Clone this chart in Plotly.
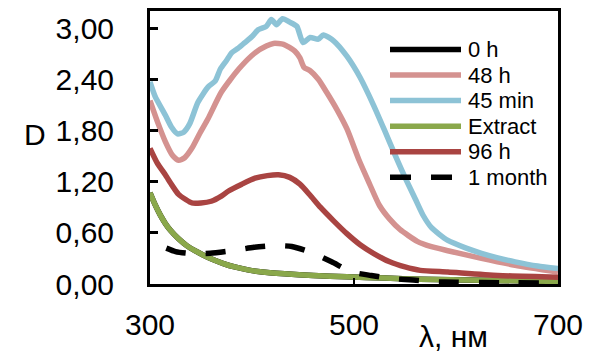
import plotly.graph_objects as go

# ---------------- data ----------------
series_names = ["0 h", "48 h", "45 min", "Extract", "96 h", "1 month"]

wl_extract = [300, 305, 310, 315, 320, 328, 336, 344, 352, 361, 372, 383, 396, 410, 432, 460, 493, 530, 565, 625, 700]
d_extract = [1.07, 0.93, 0.81, 0.71, 0.63, 0.53, 0.45, 0.39, 0.34, 0.29, 0.24, 0.20, 0.165, 0.14, 0.12, 0.10, 0.085, 0.07, 0.055, 0.045, 0.03]

wl_0h = [300, 305, 310, 315, 320, 328, 336, 344, 352, 361, 372, 383, 396, 410, 432, 460, 493, 530, 565, 625, 700]
d_0h = [1.07, 0.93, 0.81, 0.71, 0.63, 0.53, 0.45, 0.39, 0.34, 0.29, 0.24, 0.20, 0.165, 0.14, 0.12, 0.10, 0.085, 0.07, 0.055, 0.045, 0.03]

wl_48h = [300, 308, 315, 322, 328, 334, 341, 349, 357, 370, 387, 403, 414, 421, 431, 442, 447, 451, 457, 465, 473, 483, 493, 505, 515, 525, 535, 545, 562, 575, 592, 625, 658, 700]
d_48h = [2.15, 1.88, 1.67, 1.51, 1.45, 1.48, 1.59, 1.77, 1.94, 2.25, 2.52, 2.71, 2.79, 2.82, 2.81, 2.73, 2.65, 2.54, 2.50, 2.40, 2.25, 2.05, 1.82, 1.45, 1.18, 0.92, 0.76, 0.64, 0.50, 0.44, 0.39, 0.30, 0.22, 0.14]

wl_45min = [300, 305, 315, 321, 327, 333, 339, 347, 357, 364, 369, 375, 380, 386, 393, 400, 406, 414, 419, 424, 430, 437, 444, 450, 457, 465, 470, 480, 493, 506, 519, 530, 540, 550, 560, 568, 576, 592, 610, 625, 640, 658, 680, 700]
d_45min = [2.37, 2.20, 1.98, 1.84, 1.76, 1.78, 1.88, 2.13, 2.31, 2.38, 2.52, 2.62, 2.71, 2.76, 2.83, 2.90, 2.98, 3.02, 3.10, 3.04, 3.11, 3.07, 3.02, 2.83, 2.89, 2.87, 2.92, 2.85, 2.67, 2.42, 2.10, 1.80, 1.52, 1.25, 1.00, 0.80, 0.66, 0.51, 0.42, 0.36, 0.31, 0.26, 0.21, 0.18]

wl_96h = [300, 307, 315, 322, 328, 335, 341, 350, 360, 370, 377, 390, 403, 415, 426, 437, 447, 457, 467, 480, 493, 506, 519, 535, 550, 565, 592, 641, 700]
d_96h = [1.59, 1.42, 1.28, 1.15, 1.05, 0.99, 0.95, 0.95, 0.97, 1.03, 1.09, 1.17, 1.24, 1.27, 1.28, 1.25, 1.17, 1.04, 0.90, 0.74, 0.59, 0.46, 0.36, 0.26, 0.20, 0.16, 0.14, 0.10, 0.08]

wl_1month = [316, 325, 337, 359, 380, 402, 422, 439, 458, 478, 498, 517, 535, 558, 577, 600, 650, 700]
d_1month = [0.42, 0.38, 0.36, 0.36, 0.39, 0.43, 0.45, 0.44, 0.37, 0.26, 0.14, 0.10, 0.066, 0.046, 0.027, 0.02, 0.015, 0.012]

x_ticks = [300, 500, 700]
x_tick_text = ["300", "500", "700"]
y_ticks = [0.0, 0.6, 1.2, 1.8, 2.4, 3.0]

# ---------------- styles ----------------
xs = [wl_0h, wl_48h, wl_45min, wl_extract, wl_96h, wl_1month]
ys = [d_0h, d_48h, d_45min, d_extract, d_96h, d_1month]
colors = ["#000000", "#D49290", "#8DC3D6", "#8AA84B", "#A94442", "#000000"]
dashes = ["solid", "solid", "solid", "solid", "solid", "20px,20px"]
LW = 5.5

W, H = 596, 354
ML, MR, MT, MB = 150, 38, 8, 70
PW, PH = W - ML - MR, H - MT - MB

fig = go.Figure()
for name, x, y, c, d in zip(series_names, xs, ys, colors, dashes):
    fig.add_trace(go.Scatter(x=x, y=y, mode="lines", name=name,
                             line=dict(color=c, width=LW, dash=d, shape="spline", smoothing=0.6),
                             showlegend=False))

# manual legend (long line samples as in the reference)
def px_x(p):
    return (p - ML) / PW

def px_y(p):
    return (H - MB - p) / PH

shapes = []
annotations = []
row0, row_step = 47, 25.8
for i, (name, c, d) in enumerate(zip(series_names, colors, dashes)):
    yy = px_y(row0 + i * row_step)
    shapes.append(dict(type="line", xref="paper", yref="paper",
                       x0=px_x(390), x1=px_x(461), y0=yy, y1=yy,
                       line=dict(color=c, width=LW, dash=("21px,20px" if d != "solid" else "solid"))))
    annotations.append(dict(text=name, xref="paper", yref="paper", x=px_x(466), y=yy,
                            xanchor="left", yanchor="middle", showarrow=False,
                            font=dict(size=22, color="black")))

annotations.append(dict(text="D", xref="paper", yref="paper", x=px_x(35), y=px_y(133),
                        xanchor="center", yanchor="middle", showarrow=False,
                        font=dict(size=30, color="black")))
annotations.append(dict(text="λ, нм", xref="paper", yref="paper", x=px_x(453), y=px_y(337),
                        xanchor="center", yanchor="middle", showarrow=False,
                        font=dict(size=30, color="black")))

fig.update_layout(
    width=W, height=H,
    margin=dict(l=ML, r=MR, t=MT, b=MB, pad=0),
    paper_bgcolor="white", plot_bgcolor="white",
    font=dict(family="Liberation Sans, Arial, sans-serif", color="black"),
    separators=", ",
    shapes=shapes, annotations=annotations,
    showlegend=False,
)
fig.update_xaxes(range=[300, 700], tickvals=x_ticks, ticktext=x_tick_text,
                 showgrid=False, zeroline=False,
                 showline=True, linewidth=3, linecolor="black", mirror=True,
                 ticks="inside", ticklen=6, tickwidth=1.5, tickcolor="black",
                 tickfont=dict(size=30), ticklabelstandoff=12)
fig.update_yaxes(range=[0, 3.2], tickvals=y_ticks, tickformat=".2f",
                 showgrid=False, zeroline=False,
                 showline=True, linewidth=3, linecolor="black", mirror=True,
                 ticks="inside", ticklen=8, tickwidth=2.5, tickcolor="black",
                 tickfont=dict(size=30), ticklabelstandoff=27)

fig.write_html("out.html")
